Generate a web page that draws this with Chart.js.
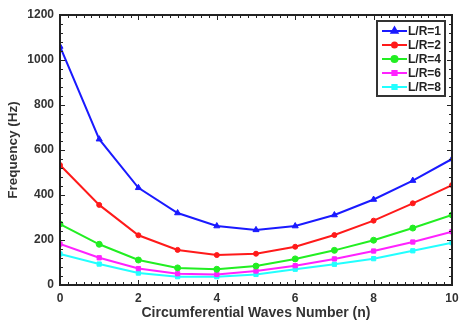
<!DOCTYPE html>
<html>
<head>
<meta charset="utf-8">
<script src="https://cdn.jsdelivr.net/npm/chart.js@4"></script>
<style>
  html, body { margin: 0; padding: 0; background: #fff; }
  #wrap { width: 459px; height: 320px; }
</style>
</head>
<body>
<div id="wrap"><canvas id="chart" width="459" height="320"></canvas></div>
<script>
const waves = [0, 1, 2, 3, 4, 5, 6, 7, 8, 9, 10]
const lr1 = [1060, 648, 432, 320, 262, 245, 262, 311, 380, 464, 560]
const lr2 = [533, 356, 221, 156, 133, 139, 170, 222, 286, 363, 444]
const lr4 = [271, 181, 111, 76, 70, 84, 116, 154, 199, 253, 311]
const lr6 = [182, 121, 73, 50, 47, 62, 86, 116, 151, 191, 237]
const lr8 = [138, 93, 53, 37, 37, 47, 70, 92, 117, 152, 188]
const yTicks = [0, 200, 400, 600, 800, 1000, 1200]
const xTicks = [0, 2, 4, 6, 8, 10]

const font = 'Liberation Sans, Arial, sans-serif'
const textColor = '#333'

function series(label, values, color, style, radius) {
  return {
    label: label,
    data: waves.map((n, i) => ({ x: n, y: values[i] })),
    borderColor: color,
    backgroundColor: color,
    borderWidth: 2,
    pointStyle: style,
    pointRadius: radius,
    pointHoverRadius: radius,
    pointBorderWidth: 1,
    tension: 0,
    fill: false,
  }
}

// frame, inward ticks and legend box drawn inside the plot
const framePlugin = {
  id: 'frame',
  afterDraw(chart) {
    const c = chart.ctx
    const a = chart.chartArea
    const xs = chart.scales.x
    const ys = chart.scales.y
    c.save()
    c.strokeStyle = '#222'
    c.lineWidth = 1
    for (let v = 0; v <= 10.001; v += 0.2) {
      const px = Math.round(xs.getPixelForValue(v)) + 0.5
      const major = Math.abs(v - Math.round(v / 2) * 2) < 0.01
      const len = major ? 5 : 3
      c.beginPath()
      c.moveTo(px, a.bottom); c.lineTo(px, a.bottom - len)
      c.moveTo(px, a.top); c.lineTo(px, a.top + len)
      c.stroke()
    }
    for (let v = 0; v <= 1200; v += 40) {
      const py = Math.round(ys.getPixelForValue(v)) + 0.5
      const len = v % 200 === 0 ? 5 : 3
      c.beginPath()
      c.moveTo(a.left, py); c.lineTo(a.left + len, py)
      c.moveTo(a.right, py); c.lineTo(a.right - len, py)
      c.stroke()
    }
    c.lineWidth = 2
    c.strokeStyle = '#222'
    c.strokeRect(a.left, a.top, a.right - a.left, a.bottom - a.top)

    // legend
    const bx = 377, by = 21, bw = 68, bh = 75
    c.fillStyle = '#fff'
    c.fillRect(bx, by, bw, bh)
    c.lineWidth = 2
    c.strokeStyle = '#333'
    c.strokeRect(bx, by, bw, bh)
    c.font = 'bold 12px ' + font
    c.textBaseline = 'middle'
    chart.data.datasets.forEach((ds, i) => {
      const y = by + 10 + i * 14
      c.strokeStyle = ds.borderColor
      c.lineWidth = 2
      c.beginPath()
      c.moveTo(bx + 5, y); c.lineTo(bx + 30, y)
      c.stroke()
      c.fillStyle = ds.borderColor
      Chart.helpers.drawPoint(c, {
        pointStyle: ds.pointStyle,
        radius: ds.pointRadius,
        borderWidth: 1,
        rotation: 0,
      }, bx + 17.5, y)
      c.fillStyle = '#222'
      c.fillText(ds.label, bx + 31, y + 1)
    })
    c.restore()
  },
}

new Chart(document.getElementById('chart'), {
  type: 'line',
  data: {
    datasets: [
      series('L/R=1', lr1, '#1a1aff', 'triangle', 3.5),
      series('L/R=2', lr2, '#ff1a1a', 'circle', 2.5),
      series('L/R=4', lr4, '#22ee22', 'circle', 3),
      series('L/R=6', lr6, '#ff22ff', 'rect', 3),
      series('L/R=8', lr8, '#22ffff', 'rect', 3),
    ],
  },
  options: {
    responsive: false,
    animation: false,
    layout: { padding: { top: 15, right: 7, left: 0, bottom: 0 } },
    plugins: { legend: { display: false }, tooltip: { enabled: false } },
    scales: {
      x: {
        type: 'linear',
        min: 0,
        max: 10,
        afterBuildTicks: (s) => { s.ticks = xTicks.map((v) => ({ value: v })) },
        afterFit: (s) => { s.height = 35; s.paddingRight = 0; s.paddingLeft = 0 },
        grid: { display: false, drawTicks: false },
        border: { display: false },
        ticks: { color: textColor, font: { family: font, size: 12, weight: 'bold' }, padding: 6 },
        title: {
          display: true,
          text: 'Circumferential Waves Number (n)',
          color: textColor,
          font: { family: font, size: 14, weight: 'bold' },
          padding: { top: 0, bottom: -2 },
        },
      },
      y: {
        min: 0,
        max: 1200,
        afterBuildTicks: (s) => { s.ticks = yTicks.map((v) => ({ value: v })) },
        afterFit: (s) => { s.width = 60 },
        grid: { display: false, drawTicks: false },
        border: { display: false },
        ticks: {
          color: textColor,
          font: { family: font, size: 12, weight: 'bold' },
          padding: 6,
          callback: (v) => String(v),
        },
        title: {
          display: true,
          text: 'Frequency (Hz)',
          color: textColor,
          font: { family: font, size: 13.5, weight: 'bold' },
          padding: { top: 5, bottom: 0 },
        },
      },
    },
  },
  plugins: [framePlugin],
})
</script>
</body>
</html>
